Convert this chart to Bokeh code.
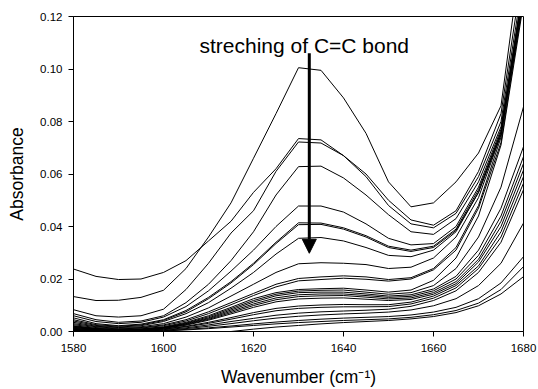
from bokeh.plotting import figure
from bokeh.models import Range1d, FixedTicker, PrintfTickFormatter, Arrow, NormalHead, Label
from bokeh.embed import file_html
from bokeh.resources import INLINE

nan = float("nan")

wavenumber = [1580, 1585, 1590, 1595, 1600, 1605, 1610, 1615, 1620, 1625, 1630,
              1635, 1640, 1645, 1650, 1655, 1660, 1665, 1670, 1675, 1680]

s01 = [0.0133, 0.0118, 0.0119, 0.0130, 0.0157, 0.0240, 0.0360, 0.0490, 0.0660, 0.0830, 0.1005, 0.0995, 0.0890, 0.0755, 0.0570, 0.0475, 0.0490, 0.0570, 0.0680, 0.0860, 0.1500]
s02 = [0.0238, 0.0210, 0.0198, 0.0200, 0.0225, 0.0270, 0.0345, 0.0420, 0.0530, 0.0620, 0.0735, 0.0730, 0.0670, 0.0600, 0.0500, 0.0425, 0.0405, 0.0460, 0.0610, 0.0830, 0.1400]
s03 = [0.0083, 0.0060, 0.0055, 0.0060, 0.0085, 0.0160, 0.0260, 0.0375, 0.0460, 0.0610, 0.0722, 0.0718, 0.0670, 0.0590, 0.0480, 0.0410, 0.0395, 0.0450, 0.0590, 0.0800, 0.1350]
s04 = [0.0068, 0.0045, 0.0035, 0.0040, 0.0060, 0.0110, 0.0180, 0.0270, 0.0380, 0.0520, 0.0628, 0.0630, 0.0585, 0.0520, 0.0445, 0.0380, 0.0370, 0.0430, 0.0570, 0.0780, 0.1300]
s05 = [0.0060, 0.0038, 0.0030, 0.0035, 0.0055, 0.0095, 0.0155, 0.0230, 0.0310, 0.0400, 0.0478, 0.0478, 0.0455, 0.0410, 0.0355, 0.0330, 0.0335, 0.0400, 0.0550, 0.0770, 0.1320]
s06 = [0.0052, 0.0030, 0.0022, 0.0028, 0.0045, 0.0080, 0.0130, 0.0190, 0.0260, 0.0340, 0.0414, 0.0413, 0.0395, 0.0365, 0.0325, 0.0310, 0.0325, 0.0390, 0.0540, 0.0760, 0.1280]
s07 = [0.0045, 0.0026, 0.0020, 0.0025, 0.0042, 0.0075, 0.0125, 0.0185, 0.0255, 0.0335, 0.0407, 0.0408, 0.0390, 0.0360, 0.0320, 0.0305, 0.0320, 0.0385, 0.0530, 0.0750, 0.1260]
s08 = [0.0040, 0.0023, 0.0017, 0.0022, 0.0038, 0.0068, 0.0110, 0.0165, 0.0225, 0.0295, 0.0355, 0.0358, 0.0345, 0.0320, 0.0290, 0.0285, 0.0310, 0.0380, 0.0530, 0.0760, 0.1300]
s09 = [0.0035, 0.0020, 0.0015, 0.0018, 0.0030, 0.0055, 0.0090, 0.0135, 0.0180, 0.0225, 0.0258, 0.0262, 0.0260, 0.0255, 0.0240, 0.0245, 0.0280, 0.0360, 0.0510, 0.0750, 0.1280]
s10 = [0.0030, 0.0018, 0.0012, 0.0015, 0.0025, 0.0045, 0.0075, 0.0110, 0.0145, 0.0180, 0.0202, 0.0208, 0.0212, 0.0208, 0.0198, 0.0205, 0.0240, 0.0320, 0.0480, 0.0740, 0.1320]
s11 = [0.0026, 0.0015, 0.0010, 0.0013, 0.0022, 0.0040, 0.0068, 0.0102, 0.0137, 0.0170, 0.0193, 0.0198, 0.0203, 0.0199, 0.0192, 0.0200, 0.0235, 0.0310, 0.0470, 0.0720, 0.1270]
s12 = [0.0022, 0.0012, 0.0008, 0.0010, 0.0018, 0.0035, 0.0060, 0.0092, 0.0125, 0.0148, 0.0160, 0.0163, 0.0165, 0.0158, 0.0150, 0.0158, 0.0195, 0.0280, 0.0440, 0.0710, 0.1250]
s13 = [0.0020, 0.0011, 0.0007, 0.0009, 0.0016, 0.0032, 0.0056, 0.0087, 0.0118, 0.0142, 0.0154, 0.0157, 0.0158, 0.0150, 0.0142, 0.0148, 0.0175, 0.0240, 0.0360, 0.0550, 0.0856]
s14 = [0.0018, 0.0010, 0.0006, 0.0008, 0.0015, 0.0030, 0.0052, 0.0082, 0.0112, 0.0136, 0.0148, 0.0150, 0.0150, 0.0143, 0.0135, 0.0140, 0.0162, 0.0210, 0.0310, 0.0470, 0.0704]
s15 = [0.0016, 0.0009, 0.0005, 0.0007, 0.0014, 0.0028, 0.0049, 0.0077, 0.0105, 0.0128, 0.0140, 0.0143, 0.0143, 0.0137, 0.0130, 0.0134, 0.0155, 0.0200, 0.0290, 0.0440, 0.0666]
s16 = [0.0014, 0.0008, 0.0005, 0.0006, 0.0013, 0.0026, 0.0046, 0.0072, 0.0099, 0.0121, 0.0133, 0.0136, 0.0137, 0.0131, 0.0124, 0.0128, 0.0148, 0.0190, 0.0275, 0.0420, 0.0640]
s17 = [0.0012, 0.0007, 0.0004, 0.0005, 0.0012, 0.0024, 0.0043, 0.0067, 0.0092, 0.0113, 0.0124, 0.0127, 0.0128, 0.0123, 0.0118, 0.0122, 0.0142, 0.0182, 0.0265, 0.0400, 0.0615]
s18 = [0.0010, 0.0006, 0.0003, 0.0004, 0.0010, 0.0020, 0.0035, 0.0053, 0.0072, 0.0088, 0.0097, 0.0101, 0.0103, 0.0102, 0.0102, 0.0112, 0.0135, 0.0175, 0.0250, 0.0380, 0.0590]
s19 = [0.0008, 0.0005, 0.0002, 0.0003, 0.0009, 0.0018, 0.0031, 0.0047, 0.0064, 0.0079, 0.0088, 0.0092, 0.0094, 0.0094, 0.0095, 0.0105, 0.0127, 0.0166, 0.0240, 0.0360, 0.0565]
s20 = [0.0006, 0.0004, 0.0002, 0.0002, 0.0007, 0.0014, 0.0025, 0.0038, 0.0050, 0.0062, 0.0070, 0.0075, 0.0078, 0.0081, 0.0085, 0.0096, 0.0118, 0.0155, 0.0225, 0.0340, 0.0540]
s21 = [0.0005, 0.0003, 0.0001, 0.0001, 0.0005, 0.0011, 0.0020, 0.0030, 0.0041, 0.0051, 0.0058, 0.0063, 0.0067, 0.0070, 0.0074, 0.0082, 0.0098, 0.0125, 0.0175, 0.0260, 0.0413]
s22 = [0.0004, 0.0002, 0.0001, 0.0001, 0.0003, 0.0008, 0.0014, 0.0021, 0.0029, 0.0036, 0.0042, 0.0047, 0.0051, 0.0054, 0.0057, 0.0063, 0.0074, 0.0092, 0.0125, 0.0185, 0.0285]
s23 = [0.0003, 0.0001, 0.0000, 0.0000, 0.0002, 0.0006, 0.0011, 0.0017, 0.0023, 0.0029, 0.0034, 0.0038, 0.0042, 0.0045, 0.0048, 0.0054, 0.0064, 0.0080, 0.0108, 0.0160, 0.0247]
s24 = [nan, nan, nan, nan, nan, nan, nan, 0.0000, 0.0009, 0.0017, 0.0023, 0.0029, 0.0034, 0.0038, 0.0042, 0.0048, 0.0057, 0.0072, 0.0098, 0.0143, 0.0209]

spectra = [s01, s02, s03, s04, s05, s06, s07, s08, s09, s10, s11, s12,
           s13, s14, s15, s16, s17, s18, s19, s20, s21, s22, s23, s24]

x_ticks = [1580, 1600, 1620, 1640, 1660, 1680]
y_ticks = [0.00, 0.02, 0.04, 0.06, 0.08, 0.10, 0.12]

annotation_text = "streching of C=C bond"
annotation_x = 1608.0
annotation_y = 0.1091
arrow_x = 1632.4
arrow_top = 0.106
arrow_tip = 0.0298

FONT = "Liberation Sans"

p = figure(width=538, height=389, output_backend="svg", toolbar_location=None,
           x_range=Range1d(1580, 1680), y_range=Range1d(0, 0.12),
           min_border_left=73, min_border_right=15, min_border_top=16, min_border_bottom=57)

for s in spectra:
    p.line(wavenumber, s, line_color="black", line_width=1)

p.add_layout(Arrow(end=NormalHead(size=14, fill_color="black", line_color="black"),
                   x_start=arrow_x, y_start=arrow_top, x_end=arrow_x, y_end=arrow_tip,
                   line_color="black", line_width=3))

p.add_layout(Label(x=annotation_x, y=annotation_y, text=annotation_text, text_font=FONT,
                   text_font_size="21px", text_color="black", text_baseline="alphabetic"))

p.grid.visible = False
p.outline_line_color = "black"
p.outline_line_width = 1
p.background_fill_color = "white"
p.border_fill_color = "white"

p.xaxis.ticker = FixedTicker(ticks=x_ticks)
p.yaxis.ticker = FixedTicker(ticks=y_ticks)
p.yaxis.formatter = PrintfTickFormatter(format="%.2f")
p.xaxis.axis_label = "Wavenumber (cm\u207b\u00b9)"
p.yaxis.axis_label = "Absorbance"

for ax in (p.xaxis, p.yaxis):
    ax.axis_line_color = "black"
    ax.major_tick_line_color = "black"
    ax.major_tick_out = 5
    ax.major_tick_in = 0
    ax.minor_tick_line_color = None
    ax.major_label_text_font = FONT
    ax.major_label_text_font_size = "11.5px"
    ax.major_label_text_color = "black"
    ax.axis_label_text_font = FONT
    ax.axis_label_text_font_size = "17.5px"
    ax.axis_label_text_font_style = "normal"
    ax.axis_label_text_color = "black"

p.xaxis.major_label_standoff = 7
p.xaxis.axis_label_standoff = 12
p.yaxis.major_label_standoff = 6
p.yaxis.axis_label_standoff = 10

open("out.html", "w").write(file_html(p, INLINE))
